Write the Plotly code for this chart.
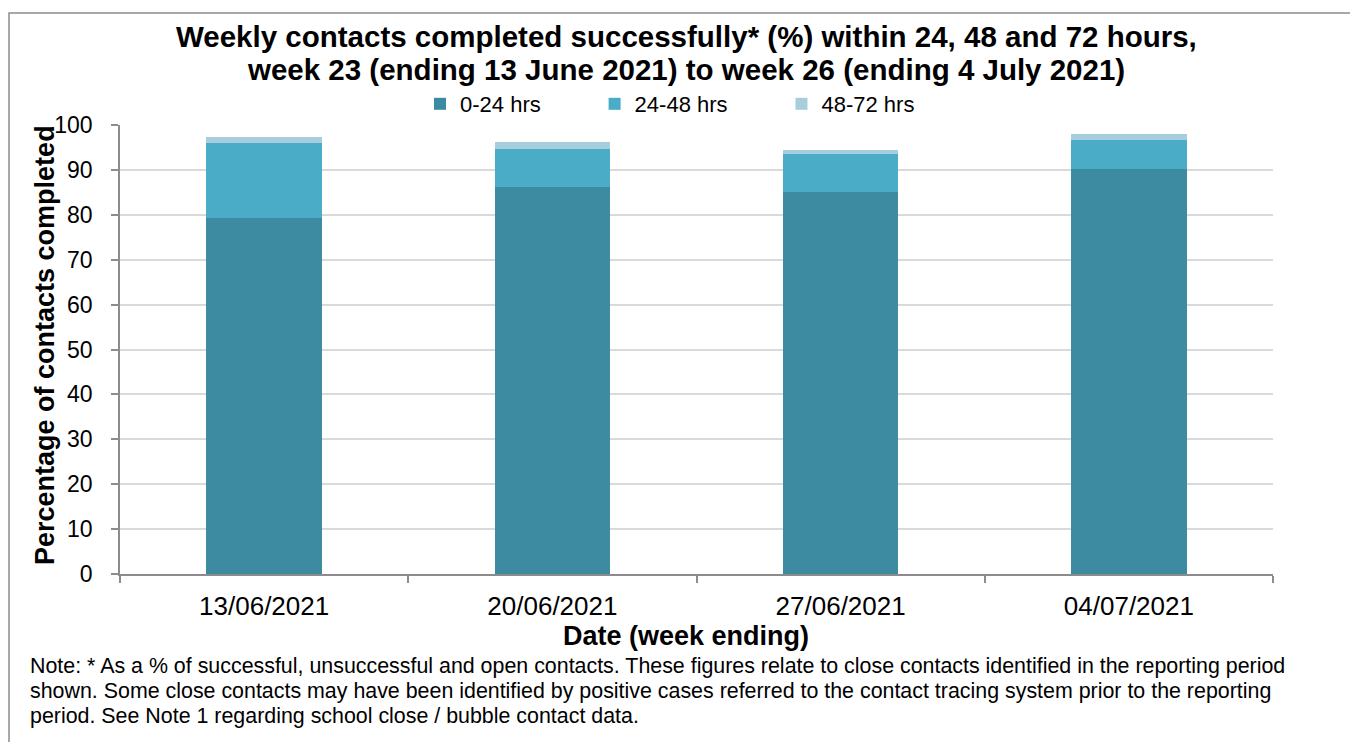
import plotly.graph_objects as go

categories = ["13/06/2021", "20/06/2021", "27/06/2021", "04/07/2021"]
hrs_0_24 = [79.2, 86.1, 85.1, 90.1]
hrs_24_48 = [16.9, 8.6, 8.4, 6.6]
hrs_48_72 = [1.2, 1.5, 0.9, 1.2]
series_names = ["0-24 hrs", "24-48 hrs", "48-72 hrs"]
colors = ["#3C8BA1", "#4AACC6", "#A7CEDC"]

FONT = "Liberation Sans, Arial, sans-serif"
# page body has an 8px margin; plot area lands at screen x 120..1273, y 125..574
W, H = 1350, 734
L, T = 112, 117
PW, PH = 1153, 449
R, B = W - L - PW, H - T - PH
SX0, SY1 = 120, 574

def px_x(px):
    return (px - SX0) / PW

def px_y(py):
    return (SY1 - py) / PH

PAD = "\u00a0" * 8

fig = go.Figure()
for name, vals, col in zip(series_names, [hrs_0_24, hrs_24_48, hrs_48_72], colors):
    fig.add_trace(go.Bar(x=categories, y=vals, name=name + PAD,
                         marker=dict(color=col, line=dict(width=0)), width=0.4))

fig.update_layout(
    width=W, height=H, barmode="stack",
    margin=dict(l=L, r=R, t=T, b=B, autoexpand=False),
    paper_bgcolor="white", plot_bgcolor="white",
    font=dict(family=FONT, color="black", size=22),
    showlegend=True,
    legend=dict(orientation="h", x=px_x(420), xanchor="left", y=px_y(83), yanchor="top",
                font=dict(size=22), traceorder="normal", bgcolor="rgba(0,0,0,0)",
                itemwidth=30),
    xaxis=dict(type="category", showgrid=False, showline=True, linecolor="#8C8C8C", linewidth=1.5,
               ticks="outside", tickson="boundaries", ticklen=7, tickcolor="#8C8C8C", tickwidth=1.5,
               tickfont=dict(size=26), ticklabelstandoff=8, fixedrange=True),
    yaxis=dict(range=[0, 100], dtick=10, showgrid=True, gridcolor="#D9D9D9", gridwidth=1.5,
               showline=True, linecolor="#8C8C8C", linewidth=1.5, ticks="outside", ticklen=7,
               tickcolor="#8C8C8C", tickwidth=1.5, tickfont=dict(size=23), ticklabelstandoff=14,
               zeroline=False),
)

title_lines = ["<b>Weekly contacts completed successfully* (%) within 24, 48 and 72 hours,</b>",
               "<b>week 23 (ending 13 June 2021) to week 26 (ending 4 July 2021)</b>"]
for line, yc in zip(title_lines, [37, 70]):
    fig.add_annotation(text=line, xref="paper", yref="paper", x=px_x(686), y=px_y(yc),
                       xanchor="center", yanchor="middle", showarrow=False, font=dict(size=29.5))

fig.add_annotation(text="<b>Percentage of contacts completed</b>", textangle=-90,
                   xref="paper", yref="paper", x=px_x(45), y=px_y(345), xanchor="center", yanchor="middle",
                   showarrow=False, font=dict(size=27))
fig.add_annotation(text="<b>Date (week ending)</b>",
                   xref="paper", yref="paper", x=px_x(686), y=px_y(636), xanchor="center", yanchor="middle",
                   showarrow=False, font=dict(size=27))

note_lines = [
    "Note: * As a % of successful, unsuccessful and open contacts. These figures relate to close contacts identified in the reporting period",
    "shown. Some close contacts may have been identified by positive cases referred to the contact tracing system prior to the reporting",
    "period. See Note 1 regarding school close / bubble contact data.",
]
for line, yc in zip(note_lines, [666, 691, 716]):
    fig.add_annotation(text=line, xref="paper", yref="paper", x=px_x(28), y=px_y(yc),
                       xanchor="left", yanchor="middle", showarrow=False, font=dict(size=21.4), align="left")

fig.add_shape(type="rect", xref="paper", yref="paper", x0=px_x(9), x1=px_x(1370), y0=px_y(760), y1=px_y(13),
              line=dict(color="#8C8C8C", width=1.5), fillcolor="rgba(0,0,0,0)", layer="below")

fig.write_html("out.html", config={"displayModeBar": False})
